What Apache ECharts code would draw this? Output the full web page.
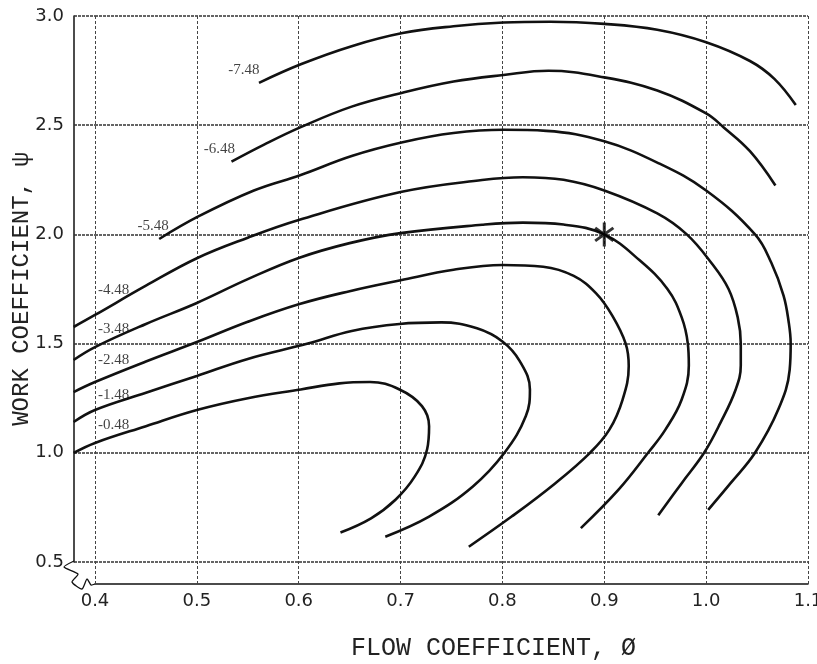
<!DOCTYPE html>
<html>
<head>
<meta charset="utf-8">
<script src="https://cdn.jsdelivr.net/npm/echarts@6/dist/echarts.min.js"></script>
<style>
  html, body { margin: 0; padding: 0; background: #fff; }
  #chart { width: 817px; height: 664px; }
</style>
</head>
<body>
<div id="chart"></div>
<script>
// tick values
var xTicks = [0.4, 0.5, 0.6, 0.7, 0.8, 0.9, 1.0, 1.1];
var yTicks = [0.5, 1.0, 1.5, 2.0, 2.5, 3.0];

// contour lines, [flow coefficient, work coefficient]
var c748 = [[0.561,2.694],[0.602,2.779],[0.652,2.862],[0.702,2.922],[0.752,2.953],[0.801,2.970],[0.847,2.974],[0.900,2.964],[0.952,2.937],[1.000,2.880],[1.043,2.794],[1.067,2.712],[1.088,2.592]];
var c648 = [[0.534,2.333],[0.566,2.411],[0.602,2.491],[0.652,2.585],[0.702,2.649],[0.752,2.700],[0.801,2.730],[0.845,2.749],[0.900,2.719],[0.952,2.659],[1.000,2.554],[1.017,2.491],[1.043,2.381],[1.068,2.224]];
var c548 = [[0.463,1.979],[0.501,2.081],[0.556,2.201],[0.602,2.272],[0.652,2.359],[0.702,2.422],[0.752,2.464],[0.801,2.479],[0.843,2.474],[0.900,2.426],[0.952,2.329],[1.000,2.201],[1.048,2.000],[1.064,1.870],[1.076,1.720],[1.081,1.600],[1.083,1.500],[1.082,1.380],[1.071,1.200],[1.048,1.000],[1.024,0.861],[1.002,0.739]];
var c448 = [[0.379,1.576],[0.400,1.631],[0.450,1.765],[0.500,1.891],[0.550,1.985],[0.600,2.066],[0.700,2.194],[0.780,2.249],[0.820,2.262],[0.860,2.250],[0.900,2.201],[0.952,2.096],[0.981,2.000],[1.005,1.870],[1.022,1.750],[1.031,1.620],[1.034,1.500],[1.034,1.400],[1.029,1.290],[1.014,1.137],[0.998,1.000],[0.976,0.861],[0.953,0.714]];
var c348 = [[0.379,1.425],[0.400,1.484],[0.450,1.590],[0.500,1.686],[0.550,1.795],[0.600,1.892],[0.650,1.960],[0.700,2.006],[0.780,2.044],[0.820,2.054],[0.860,2.045],[0.900,2.000],[0.935,1.880],[0.962,1.750],[0.976,1.620],[0.982,1.500],[0.983,1.400],[0.976,1.244],[0.960,1.106],[0.943,1.000],[0.914,0.831],[0.877,0.655]];
var c248 = [[0.379,1.278],[0.400,1.324],[0.450,1.418],[0.500,1.507],[0.550,1.600],[0.600,1.680],[0.650,1.740],[0.700,1.790],[0.752,1.838],[0.800,1.860],[0.840,1.852],[0.870,1.810],[0.892,1.730],[0.908,1.627],[0.921,1.500],[0.924,1.397],[0.918,1.244],[0.905,1.106],[0.886,1.000],[0.852,0.861],[0.809,0.708],[0.767,0.570]];
var c148 = [[0.379,1.141],[0.400,1.196],[0.450,1.275],[0.500,1.352],[0.550,1.430],[0.609,1.500],[0.652,1.558],[0.699,1.590],[0.740,1.597],[0.775,1.570],[0.800,1.510],[0.817,1.420],[0.827,1.290],[0.823,1.168],[0.802,1.000],[0.771,0.846],[0.728,0.708],[0.685,0.616]];
var c048 = [[0.379,0.999],[0.400,1.045],[0.450,1.122],[0.500,1.196],[0.550,1.250],[0.602,1.290],[0.640,1.318],[0.670,1.324],[0.699,1.290],[0.721,1.214],[0.728,1.122],[0.726,1.015],[0.714,0.892],[0.695,0.785],[0.671,0.700],[0.641,0.635]];

var curveNames = ['-7.48', '-6.48', '-5.48', '-4.48', '-3.48', '-2.48', '-1.48', '-0.48'];
var curves = [c748, c648, c548, c448, c348, c248, c148, c048];
var designPoint = [0.9, 2.0];

// where each label sits relative to its curve's first point (px)
var labelOffsets = [[-15,-13],[-12,-13],[-6,-13],[40,-37],[40,-31],[40,-32],[40,-27],[40,-28]];

// plot box: 0.4 sits at x=95, 1.1 at x=808, the frame edge at x=74
var gLeft = 95, gRight = 9, gTop = 16, gBottom = 102, frameLeft = 74;
var pxPerUnit = (817 - gRight - gLeft) / 0.7;
var dataMinX = 0.4 - (gLeft - frameLeft) / pxPerUnit;

var myChart = echarts.init(document.getElementById('chart'));

var series = curves.map(function (c, i) {
    return {
        name: curveNames[i],
        type: 'line',
        xAxisIndex: 0, yAxisIndex: 0,
        data: c,
        smooth: 0.4,
        showSymbol: false,
        clip: false,
        lineStyle: { color: '#111', width: 2.6 },
        silent: true
    };
});

series.push({
    type: 'scatter',
    xAxisIndex: 0, yAxisIndex: 0,
    data: curves.map(function (c, i) {
        return {
            value: c[0],
            label: { show: true, position: 'inside', offset: labelOffsets[i], formatter: curveNames[i] }
        };
    }),
    symbolSize: 0,
    clip: false,
    label: { fontFamily: 'Liberation Serif', fontSize: 15, color: '#111' },
    silent: true
});

// design point asterisk
series.push({
    type: 'scatter',
    xAxisIndex: 0, yAxisIndex: 0,
    data: [designPoint],
    symbol: 'path://M10.5 0L13.5 0L13.5 24L10.5 24Z M3.88 4.28L21.88 17.28L20.12 19.72L2.12 6.72Z M2.12 17.28L20.12 4.28L21.88 6.72L3.88 19.72Z',
    symbolSize: [20, 24],
    itemStyle: { color: '#000' },
    z: 5,
    silent: true
});

var option = {
    animation: false,
    backgroundColor: '#fff',
    grid: [
        // data grid, spans the whole frame
        { left: frameLeft, right: gRight, top: gTop, bottom: gBottom, outerBoundsMode: 'none', containLabel: false },
        // visible axes and grid lines
        { left: gLeft, right: gRight, top: gTop, bottom: gBottom, outerBoundsMode: 'none', containLabel: false }
    ],
    xAxis: [{
        type: 'value', gridIndex: 0,
        min: dataMinX, max: 1.1, show: false
    }, {
        type: 'value', gridIndex: 1,
        min: xTicks[0],
        max: xTicks[xTicks.length - 1],
        interval: 0.1,
        offset: 22,
        name: 'FLOW COEFFICIENT, Ø',
        nameLocation: 'middle',
        nameGap: 52,
        nameMoveOverlap: false,
        nameTextStyle: { fontFamily: 'Liberation Mono', fontSize: 25, color: '#222', padding: [0, 0, 0, 84] },
        axisLine: { show: true, lineStyle: { color: '#111', width: 1.5 } },
        axisTick: { show: true, inside: true, length: 22, lineStyle: { color: '#444', type: [3, 2] } },
        axisLabel: {
            formatter: function (v) { return v.toFixed(1); },
            fontFamily: 'DejaVu Sans', fontSize: 18, color: '#222', margin: 8
        },
        splitLine: { show: true, lineStyle: { color: '#444', width: 1, type: [3, 2] } }
    }],
    yAxis: [{
        type: 'value', gridIndex: 0,
        min: yTicks[0], max: yTicks[yTicks.length - 1], show: false
    }, {
        type: 'value', gridIndex: 1,
        min: yTicks[0],
        max: yTicks[yTicks.length - 1],
        interval: 0.5,
        offset: 21,
        name: 'WORK COEFFICIENT, ψ',
        nameLocation: 'middle',
        nameGap: 40,
        nameRotate: 90,
        nameMoveOverlap: false,
        nameTextStyle: { fontFamily: 'Liberation Mono', fontSize: 24, color: '#222' },
        axisLine: { show: true, lineStyle: { color: '#111', width: 1.5 } },
        axisTick: { show: true, inside: true, length: 21, lineStyle: { color: '#333', width: 1.5, type: [3, 1] } },
        axisLabel: {
            formatter: function (v) { return v.toFixed(1); },
            fontFamily: 'DejaVu Sans', fontSize: 18, color: '#222', margin: 10
        },
        splitLine: { show: true, lineStyle: { color: '#333', width: 1.5, type: [3, 1] } }
    }],
    // axis break squiggle in the lower left corner
    graphic: [{
        type: 'polyline',
        shape: { points: [[74,561],[64,567],[78,574],[72,582],[82,589],[87,579],[91,585],[95,584]], smooth: 0.2 },
        style: { stroke: '#111', lineWidth: 1.3, fill: null }
    }],
    series: series
};

myChart.setOption(option);
</script>
</body>
</html>
